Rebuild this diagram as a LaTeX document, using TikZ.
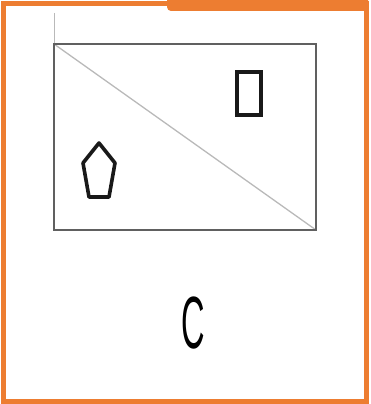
\documentclass[tikz,border=0pt]{standalone}
\usepackage{fontspec}
\setmainfont{Liberation Sans}
\definecolor{borderorange}{HTML}{ED7D31}
\definecolor{framegray}{HTML}{606060}
\begin{document}
\begin{tikzpicture}[x=1pt,y=-1pt,
  frame/.style={draw=borderorange,line width=5pt},
  boxline/.style={draw=framegray,line width=2.3pt},
  thinline/.style={draw=gray!55,line width=1.3pt},
  shapeline/.style={draw=black!90,line width=3.6pt,line join=round}]
\useasboundingbox (0,0) rectangle (370,404);
% outer orange frame
\draw[frame] (3.5,3.5) rectangle (366.5,401);
% top-right tab
\fill[borderorange] (167,0) -- (368,0) -- (368,11) -- (171,11) arc[start angle=90,end angle=180,radius=4] -- cycle;
% inner rectangle
\coordinate (tl) at (54,44);
\coordinate (br) at (316,230);
\draw[thinline,line width=0.8pt] (54,13) -- (tl);
\draw[thinline] (tl) -- (br);
\draw[boxline] (tl) rectangle (br);
% small rectangle
\draw[shapeline,line join=miter] (237,72) rectangle (261,115);
% pentagon
\draw[shapeline] (99,143) -- (115,163) -- (109,197) -- (89,197) -- (83,163) -- cycle;
% label
\node[inner sep=0pt,font=\fontsize{74}{74}\selectfont,xscale=0.44] (lbl) at (193.5,323) {C};
\end{tikzpicture}
\end{document}
